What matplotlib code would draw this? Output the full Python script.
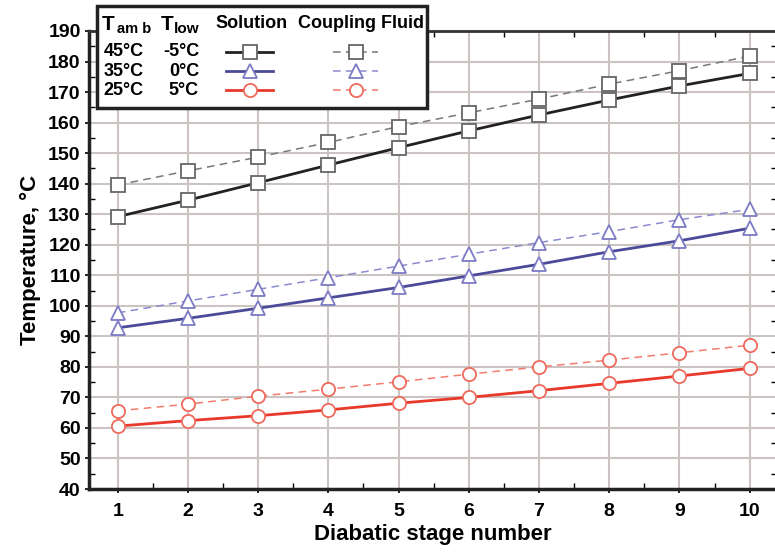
import matplotlib.pyplot as plt
from matplotlib.lines import Line2D
from matplotlib.patches import Rectangle
from matplotlib.ticker import MultipleLocator

plt.rcParams['font.family'] = ['Liberation Sans', 'DejaVu Sans']
plt.rcParams['font.weight'] = 'bold'

stages = [1, 2, 3, 4, 5, 6, 7, 8, 9, 10]

# solution temperatures
sol_45 = [129.2, 134.6, 140.3, 146.1, 151.8, 157.3, 162.5, 167.4, 172.0, 176.1]
sol_35 = [92.8, 95.9, 99.2, 102.6, 106.0, 109.8, 113.6, 117.7, 121.3, 125.4]
sol_25 = [60.6, 62.4, 64.0, 65.9, 68.1, 70.0, 72.2, 74.6, 77.0, 79.5]

# coupling fluid temperatures
cf_45 = [139.6, 144.2, 148.7, 153.5, 158.7, 163.2, 167.7, 172.6, 177.0, 181.8]
cf_35 = [97.7, 101.6, 105.4, 109.2, 113.0, 116.9, 120.7, 124.3, 128.2, 131.6]
cf_25 = [65.6, 67.8, 70.4, 72.7, 75.1, 77.6, 80.0, 82.2, 84.6, 87.1]

t_amb = ['45°C', '35°C', '25°C']
t_low = ['-5°C', '0°C', '5°C']

W, H = 775, 552
fig = plt.figure(figsize=(W / 100, H / 100), dpi=100)
ax = fig.add_axes([89 / W, 1 - 489 / H, (777 - 89) / W, (489 - 31) / H])

grid_c = '#cbc4c2'
styles = [
    # (solution, coupling, marker, size, solid colour, dashed colour, edge colour)
    (sol_45, cf_45, 's', 9.5, '#222222', '#777777', '#666666'),
    (sol_35, cf_35, '^', 10.5, '#4b4a98', '#8b8ad0', '#7c7bc4'),
    (sol_25, cf_25, 'o', 9.5, '#e8392b', '#f27b6c', '#ee6a5c'),
]

sol_style = []
cf_style = []
for sol, cf, m, ms, c1, c2, ec in styles:
    s1 = dict(color=c1, lw=2, marker=m, ms=ms, mfc='white', mec=ec, mew=1.3)
    s2 = dict(color=c2, lw=1.1, ls=(0, (5, 3.5)), marker=m, ms=ms, mfc='white', mec=ec, mew=1.3)
    ax.plot(stages, cf, zorder=3, **s2)
    ax.plot(stages, sol, zorder=4, **s1)
    sol_style.append(s1)
    cf_style.append(s2)

ax.set_xlim(0.59, 10.39)
ax.set_ylim(40, 190)
ax.xaxis.set_major_locator(MultipleLocator(1))
ax.xaxis.set_minor_locator(MultipleLocator(0.5))
ax.yaxis.set_major_locator(MultipleLocator(10))
ax.yaxis.set_minor_locator(MultipleLocator(5))
ax.grid(True, which='major', color=grid_c, lw=1.5, zorder=0)
ax.set_axisbelow(True)

ax.tick_params(which='major', direction='out', length=3, width=1.2, labelsize=14, pad=3)
ax.tick_params(axis='x', which='major', pad=7)
ax.tick_params(which='minor', direction='in', length=4, width=1, top=True, right=True)
for lab in ax.get_xticklabels() + ax.get_yticklabels():
    lab.set_fontweight('bold')

for side in ['left', 'bottom']:
    ax.spines[side].set_linewidth(2.5)
    ax.spines[side].set_color('#222222')
ax.spines['top'].set_linewidth(2)
ax.spines['top'].set_color('#333333')
ax.spines['right'].set_linewidth(1)

ax.set_xlabel('Diabatic stage number', fontsize=16, fontweight='bold', labelpad=3)
ax.set_ylabel('Temperature, °C', fontsize=16, fontweight='bold', labelpad=5)


# legend table drawn in figure pixels
def fx(px):
    return px / W


def fy(py):
    return 1 - py / H


fig.patches.append(Rectangle((fx(97), fy(108)), fx(427) - fx(97), fy(6) - fy(108),
                             transform=fig.transFigure, facecolor='white',
                             edgecolor='#222222', lw=2.5, zorder=10))

fs = 13
fig.text(fx(102), fy(25), 'T', fontsize=15, fontweight='bold', va='center', zorder=11)
fig.text(fx(117), fy(29), 'am b', fontsize=10.5, fontweight='bold', va='center', zorder=11)
fig.text(fx(161), fy(25), 'T', fontsize=15, fontweight='bold', va='center', zorder=11)
fig.text(fx(174), fy(29), 'low', fontsize=11, fontweight='bold', va='center', zorder=11)
fig.text(fx(252), fy(24), 'Solution', fontsize=fs, fontweight='bold', ha='center', va='center', zorder=11)
fig.text(fx(361), fy(24), 'Coupling Fluid', fontsize=fs, fontweight='bold', ha='center', va='center', zorder=11)

rows_y = [52, 71, 90]
for i, yy in enumerate(rows_y):
    fig.text(fx(144), fy(yy), t_amb[i], fontsize=fs, fontweight='bold', ha='right', va='center', zorder=11)
    fig.text(fx(199), fy(yy), t_low[i], fontsize=fs, fontweight='bold', ha='right', va='center', zorder=11)
    fig.lines.append(Line2D([fx(226), fx(273)], [fy(yy), fy(yy)], transform=fig.transFigure,
                            markevery=[], zorder=12, **sol_style[i]))
    fig.lines.append(Line2D([fx(250)], [fy(yy)], transform=fig.transFigure, ls='none',
                            marker=sol_style[i]['marker'], ms=sol_style[i]['ms'], mfc='white',
                            mec=sol_style[i]['mec'], mew=1.3, zorder=13))
    fig.lines.append(Line2D([fx(333), fx(378)], [fy(yy), fy(yy)], transform=fig.transFigure,
                            markevery=[], zorder=12, **cf_style[i]))
    fig.lines.append(Line2D([fx(356)], [fy(yy)], transform=fig.transFigure, ls='none',
                            marker=cf_style[i]['marker'], ms=cf_style[i]['ms'], mfc='white',
                            mec=cf_style[i]['mec'], mew=1.3, zorder=13))

plt.savefig('out.png', dpi=100)
